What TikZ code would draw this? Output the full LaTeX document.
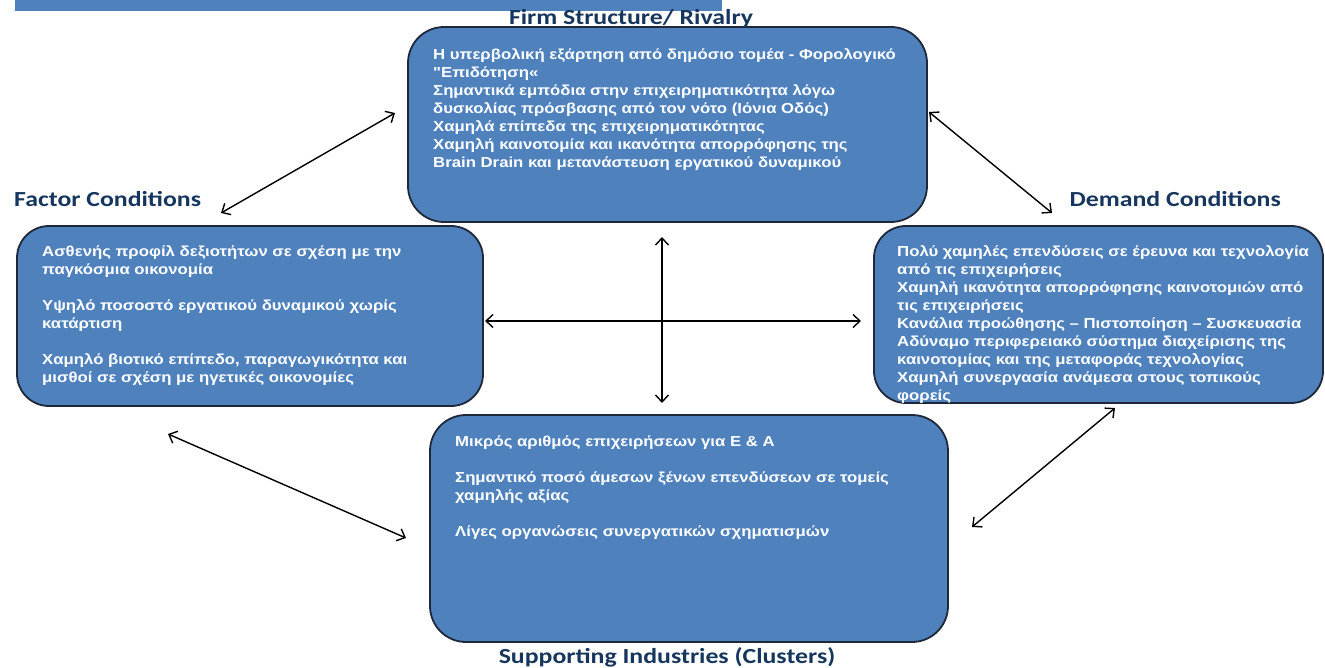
\documentclass[tikz,border=0pt]{standalone}
\usepackage{fontspec}
\setmainfont{Liberation Sans}[FakeStretch=1.155,Ligatures=TeXOff]
\newfontfamily\titlefont{Carlito}[FakeStretch=1.2]
\usetikzlibrary{arrows.meta}
\definecolor{boxblue}{RGB}{79,129,189}
\definecolor{boxedge}{RGB}{30,40,58}
\definecolor{titlenavy}{RGB}{23,54,93}
\tikzset{
  bluebox/.style={draw=boxedge, line width=1.8pt, fill=boxblue},
  boxtext/.style={anchor=north west, inner sep=0pt, align=left, text=white,
    font=\fontsize{14.5}{18}\selectfont\bfseries},
  heading/.style={text=titlenavy, inner sep=0pt, font=\titlefont\fontsize{21.5}{24}\selectfont\bfseries},
  link/.style={line width=1.4pt, {Straight Barb[length=7pt,width=13pt]}-{Straight Barb[length=7pt,width=13pt]}}
}
\begin{document}
\begin{tikzpicture}[x=1pt,y=-1pt]
\useasboundingbox (0,0) rectangle (1325,668);
% top bar
\fill[boxblue] (15,0) rectangle (722,11);
% boxes
\draw[bluebox, rounded corners=36pt] (408,27) rectangle (927,222);
\draw[bluebox, rounded corners=32pt] (17,226) rectangle (483,406);
\draw[bluebox, rounded corners=32pt] (874,226) rectangle (1323,403);
\draw[bluebox, rounded corners=36pt] (430,415) rectangle (948,642);
% headings
\node[heading] (tfirm) at (631,19) {Firm Structure/ Rivalry};
\node[heading, anchor=west] (tfactor) at (14,199) {Factor Conditions};
\node[heading, anchor=east] (tdemand) at (1281,199) {Demand Conditions};
\node[heading] (tsupp) at (667,657) {Supporting Industries (Clusters)};
% texts
\node[boxtext] (firm) at (433,48) {Η υπερβολική εξάρτηση από δημόσιο τομέα - Φορολογικό\\
"Επιδότηση«\\
Σημαντικά εμπόδια στην επιχειρηματικότητα λόγω\\
δυσκολίας πρόσβασης από τον νότο (Ιόνια Οδός)\\
Χαμηλά επίπεδα της επιχειρηματικότητας\\
Χαμηλή καινοτομία και ικανότητα απορρόφησης της\\
Brain Drain και μετανάστευση εργατικού δυναμικού};
\node[boxtext] (factor) at (42,245) {Ασθενής προφίλ δεξιοτήτων σε σχέση με την\\
παγκόσμια οικονομία\\[18pt]
Υψηλό ποσοστό εργατικού δυναμικού χωρίς\\
κατάρτιση\\[18pt]
Χαμηλό βιοτικό επίπεδο, παραγωγικότητα και\\
μισθοί σε σχέση με ηγετικές οικονομίες};
\node[boxtext] (demand) at (897,245) {Πολύ χαμηλές επενδύσεις σε έρευνα και τεχνολογία\\
από τις επιχειρήσεις\\
Χαμηλή ικανότητα απορρόφησης καινοτομιών από\\
τις επιχειρήσεις\\
Κανάλια προώθησης – Πιστοποίηση – Συσκευασία\\
Αδύναμο περιφερειακό σύστημα διαχείρισης της\\
καινοτομίας και της μεταφοράς τεχνολογίας\\
Χαμηλή συνεργασία ανάμεσα στους τοπικούς\\
φορείς};
\node[boxtext] (supp) at (455,436) {Μικρός αριθμός επιχειρήσεων για Ε \& Α\\[18pt]
Σημαντικό ποσό άμεσων ξένων επενδύσεων σε τομείς\\
χαμηλής αξίας\\[18pt]
Λίγες οργανώσεις συνεργατικών σχηματισμών};
% arrow end points
\coordinate (a1) at (221,213); \coordinate (a2) at (395,113);
\coordinate (b1) at (929,112); \coordinate (b2) at (1052,213);
\coordinate (c1) at (168,434); \coordinate (c2) at (406,538);
\coordinate (d1) at (1115,408); \coordinate (d2) at (972,527);
\coordinate (h1) at (485,321); \coordinate (h2) at (861,321);
\coordinate (v1) at (662,237); \coordinate (v2) at (662,403);
\draw[link] (a1) -- (a2);
\draw[link] (b1) -- (b2);
\draw[link] (c1) -- (c2);
\draw[link] (d1) -- (d2);
\draw[link] (h1) -- (h2);
\draw[link] (v1) -- (v2);
\end{tikzpicture}
\end{document}
